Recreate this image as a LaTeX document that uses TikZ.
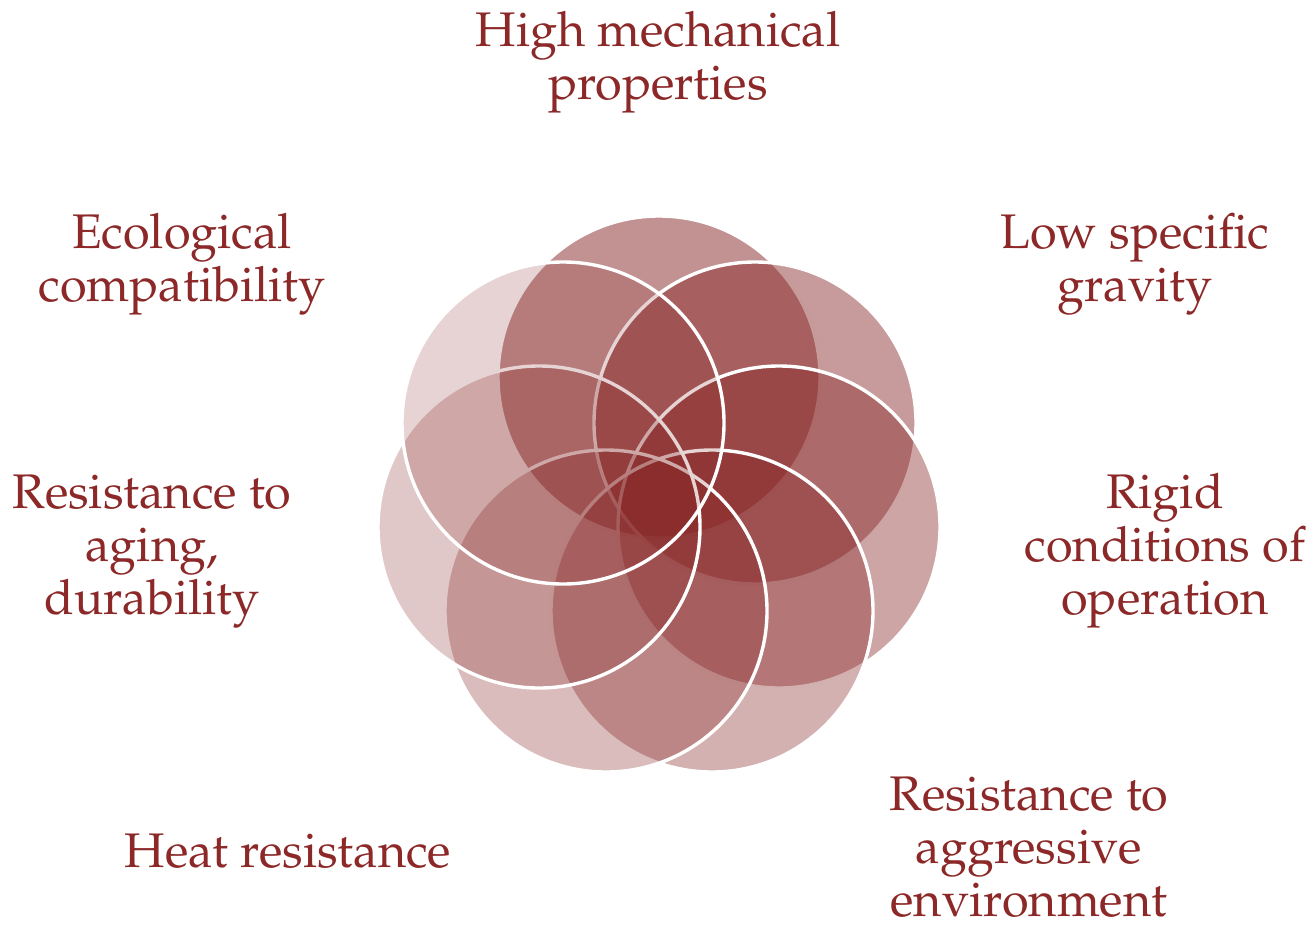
\documentclass[tikz,border=0pt]{standalone}
\usepackage[T1]{fontenc}
\usepackage{mathpazo}
\definecolor{petalred}{RGB}{134,36,36}
\definecolor{labelred}{RGB}{140,40,40}
\begin{document}
\begin{tikzpicture}[x=0.5pt,y=-0.5pt,
  petal/.style={circle, minimum size=161pt, inner sep=0pt, outer sep=0pt,
    fill=petalred, draw=white, line width=1.7pt},
  label/.style={text=labelred, align=center, anchor=base, inner sep=0pt,
    font=\fontsize{24.3}{26.5}\selectfont}]
\useasboundingbox (0,0) rectangle (1312,926);
% seven overlapping petals, drawn clockwise from the top
\node[petal, fill opacity=0.50] (pA) at (659,377) {};
\node[petal, fill opacity=0.46] (pB) at (755,423) {};
\node[petal, fill opacity=0.41] (pC) at (779,527) {};
\node[petal, fill opacity=0.355] (pD) at (712,611) {};
\node[petal, fill opacity=0.305] (pE) at (606,611) {};
\node[petal, fill opacity=0.25] (pF) at (539,527) {};
\node[petal, fill opacity=0.20] (pG) at (563,423) {};
% labels around the ring (placed by the baseline of their last line)
\node[label] (lA) at (658,99) {High mechanical\\properties};
\node[label] (lB) at (1135,301) {Low specific\\gravity};
\node[label] (lC) at (1165,614) {Rigid\\conditions of\\operation};
\node[label] (lD) at (1029,916) {Resistance to\\aggressive\\environment};
\node[label] (lE) at (288,867) {Heat resistance};
\node[label] (lF) at (152,614) {Resistance to\\aging,\\durability};
\node[label] (lG) at (182,301) {Ecological\\compatibility};
\end{tikzpicture}
\end{document}
